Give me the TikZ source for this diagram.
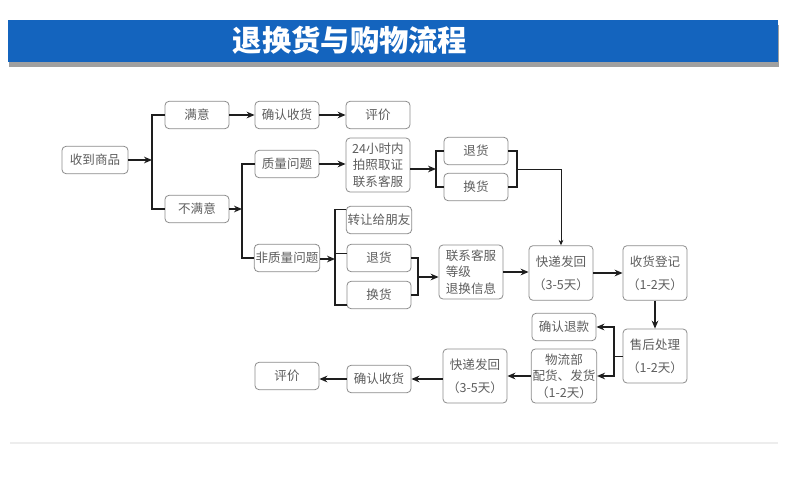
\documentclass[tikz,border=0pt]{standalone}
\usepackage{fontspec}
\newfontfamily\cjk{Noto Sans CJK SC}
\usetikzlibrary{arrows.meta,shadows}
\definecolor{banner}{HTML}{1464BE}
\definecolor{boxline}{HTML}{8C8C8C}
\definecolor{boxtext}{HTML}{5E5E5E}
\definecolor{linkc}{HTML}{1E1E1E}
\definecolor{rule}{HTML}{EDEDED}
\tikzset{
  box/.style={draw=boxline, line width=0.6pt, rounded corners=3pt, fill=white,
    text=boxtext, font=\cjk\fontsize{9.4}{12.5}\selectfont, align=center,
    inner sep=1pt, minimum width=48pt, minimum height=20.5pt},
  tall/.style={minimum height=40.5pt},
  link/.style={-{Stealth[length=6pt,width=5pt]}, line width=1.2pt, draw=linkc},
  thinlink/.style={-{Stealth[length=4pt,width=3.5pt]}, line width=0.6pt, draw=linkc},
  brk/.style={line width=1pt, draw=linkc},
  thinbrk/.style={line width=0.6pt, draw=linkc},
}
\begin{document}
\begin{tikzpicture}[x=0.75pt,y=-0.75pt]
  \useasboundingbox (0,0) rectangle (790,493);
  \fill[banner, drop shadow={shadow xshift=0.8pt, shadow yshift=-3.5pt, opacity=0.75}]
    (8,20) rectangle (778,62);
  \node[text=white, font=\cjk\bfseries\fontsize{22}{24}\selectfont] (title) at (350,40) {退换货与购物流程};
  \draw[rule, line width=1.5pt] (10,443) -- (778,443);

  \node[box, minimum width=49.5pt] (recv) at (95,160) {收到商品};
  \node[box] (ok) at (197,115) {满意};
  \node[box] (okconf) at (287,115) {确认收货};
  \node[box] (okrate) at (378,115) {评价};
  \node[box] (notok) at (197,209) {不满意};
  \node[box] (qual) at (287,164) {质量问题};
  \node[box] (nqual) at (287,258) {非质量问题};
  \node[box, tall] (qcall) at (378,165) {24小时内\\拍照取证\\联系客服};
  \node[box] (qret) at (476,151) {退货};
  \node[box] (qexc) at (476,187) {换货};
  \node[box] (ngive) at (379,220) {转让给朋友};
  \node[box] (nret) at (379,258) {退货};
  \node[box] (nexc) at (379,295) {换货};
  \node[box, tall, align=left] (ncall) at (471,272) {联系客服\\等级\\退换信息};
  \node[box, tall, minimum height=41pt] (ship) at (561,273) {快递发回\\[5pt]（3-5天）};
  \node[box, tall, minimum height=41pt] (reg) at (655,273) {收货登记\\[5pt]（1-2天）};
  \node[box, tall] (after) at (655,356) {售后处理\\[5pt]（1-2天）};
  \node[box] (refund) at (564,327) {确认退款};
  \node[box, tall] (logi) at (564,376) {物流部\\配货、发货\\（1-2天）};
  \node[box, tall] (ship2) at (475,376) {快递发回\\[5pt]（3-5天）};
  \node[box] (conf2) at (379,379) {确认收货};
  \node[box] (rate2) at (287,376) {评价};

  \coordinate (j1) at (152,160);
  \coordinate (j2) at (242,209);
  \coordinate (j3) at (436,169);
  \coordinate (j4) at (517,169);
  \coordinate (j5) at (335,259);
  \coordinate (j6) at (418,277);
  \coordinate (j7) at (614,356);

  \draw[link] (recv.east) -- (j1);
  \draw[brk] (ok.west) -| (j1) |- (notok.west);
  \draw[link] (ok) -- (okconf);
  \draw[link] (okconf) -- (okrate);
  \draw[link] (notok.east) -- (j2);
  \draw[brk] (qual.west) -| (j2) |- (nqual.west);
  \draw[link] (qual.east) -- (qual.east -| qcall.west);
  \draw[link] (qcall.east |- j3) -- (j3);
  \draw[brk] (qret.west) -| (j3) |- (qexc.west);
  \draw[brk] (qret.east) -| (j4) |- (qexc.east);
  \draw[thinlink] (j4) -| (ship.north);
  \draw[link] (nqual.east |- j5) -- (j5);
  \draw[brk] ([yshift=-2.5pt]ngive.north west) -| (j5) |- ([yshift=3pt]nexc.south west);
  \draw[brk] ([yshift=3.5pt]nret.west) -- ([yshift=3.5pt]nret.west -| j5);
  \draw[brk] (nret.east) -| (j6) |- (nexc.east);
  \draw[link] (j6) -- (j6 -| ncall.west);
  \draw[link] (ncall.east) -- (ncall.east -| ship.west);
  \draw[link] (ship) -- (reg);
  \draw[link] (reg) -- (after);
  \draw[thinbrk] (after.west) -- (j7);
  \draw[link] (j7) |- (refund.east);
  \draw[link] (j7) |- (logi.east);
  \draw[link] (logi) -- (ship2);
  \draw[link] (ship2.west |- conf2) -- (conf2);
  \draw[link] (conf2.west) -- (conf2.west -| rate2.east);
\end{tikzpicture}
\end{document}
